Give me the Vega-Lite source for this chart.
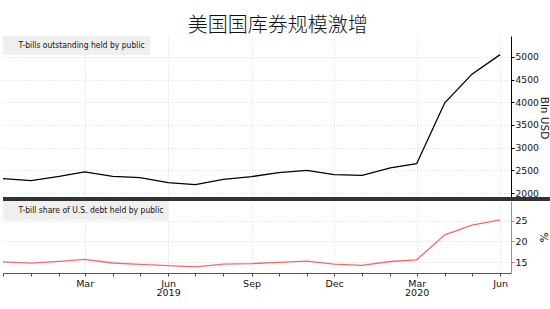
{
  "$schema": "https://vega.github.io/schema/vega-lite/v6.json",
  "padding": {"left": 0, "right": 0, "top": 16, "bottom": 0},
  "background": "white",
  "title": {"text": "美国国库券规模激增", "font": "Noto Sans CJK SC", "fontSize": 20, "fontWeight": 300, "color": "#111", "anchor": "middle", "offset": 0},
  "spacing": 0,
  "config": {
    "view": {"stroke": null},
    "axis": {"labelFont": "DejaVu Sans", "titleFont": "DejaVu Sans", "labelColor": "#111", "titleColor": "#111", "gridColor": "#d8d8d8", "gridDash": [1, 2], "gridWidth": 1},
    "legend": {"labelFont": "Liberation Sans Narrow, DejaVu Sans Condensed, Liberation Sans", "labelFontSize": 8.5, "labelColor": "#111", "labelLimit": 400}
  },
  "resolve": {"scale": {"color": "independent"}, "legend": {"color": "independent"}},
  "vconcat": [
    {
      "width": 508,
      "height": 163,
      "data": {"values": [
        {"date": "2018-12-01", "bln": 2320},
        {"date": "2019-01-01", "bln": 2275},
        {"date": "2019-02-01", "bln": 2368},
        {"date": "2019-03-01", "bln": 2466},
        {"date": "2019-04-01", "bln": 2370},
        {"date": "2019-05-01", "bln": 2340},
        {"date": "2019-06-01", "bln": 2230},
        {"date": "2019-07-01", "bln": 2187},
        {"date": "2019-08-01", "bln": 2300},
        {"date": "2019-09-01", "bln": 2363},
        {"date": "2019-10-01", "bln": 2450},
        {"date": "2019-11-01", "bln": 2500},
        {"date": "2019-12-01", "bln": 2407},
        {"date": "2020-01-01", "bln": 2391},
        {"date": "2020-02-01", "bln": 2554},
        {"date": "2020-03-01", "bln": 2648},
        {"date": "2020-04-01", "bln": 3989},
        {"date": "2020-05-01", "bln": 4620},
        {"date": "2020-06-01", "bln": 5050}
      ]},
      "layer": [
        {
          "mark": {"type": "line", "strokeWidth": 1.3},
          "encoding": {
            "x": {"field": "date", "type": "temporal",
              "scale": {"type": "utc", "domain": [{"year": 2018, "month": "dec", "date": 1, "utc": true}, {"year": 2020, "month": "jun", "date": 13, "utc": true}]},
              "axis": {"orient": "bottom", "title": null, "labels": false, "ticks": false, "domain": false, "grid": true,
                "values": [{"year": 2019, "month": "mar", "date": 1, "utc": true}, {"year": 2019, "month": "jun", "date": 1, "utc": true}, {"year": 2019, "month": "sep", "date": 1, "utc": true}, {"year": 2019, "month": "dec", "date": 1, "utc": true}, {"year": 2020, "month": "mar", "date": 1, "utc": true}, {"year": 2020, "month": "jun", "date": 1, "utc": true}]}},
            "y": {"field": "bln", "type": "quantitative",
              "scale": {"domain": [1870, 5460], "nice": false, "zero": false},
              "axis": {"orient": "right", "values": [2000, 2500, 3000, 3500, 4000, 4500, 5000], "format": "d", "labelOverlap": false, "domainColor": "#000", "tickColor": "#000", "tickSize": 3, "labelFontSize": 9.2, "labelPadding": 1, "title": "Bln USD", "titleFontSize": 10.5, "titleFontWeight": "normal", "titlePadding": 0, "grid": true}},
            "color": {"datum": "T-bills outstanding held by public", "scale": {"range": ["#000000"]},
              "legend": {"title": null, "orient": "top-left", "offset": 0, "padding": 5, "fillColor": "#efefef", "symbolType": "square", "symbolSize": 28, "symbolStrokeWidth": 0, "labelOffset": 2}}
          }
        },
        {
          "mark": {"type": "rule", "clip": false, "color": "#333", "strokeWidth": 3},
          "encoding": {
            "y": {"datum": 1870, "type": "quantitative",
              "axis": {"orient": "right", "values": [2000, 2500, 3000, 3500, 4000, 4500, 5000], "format": "d", "labelOverlap": false, "domainColor": "#000", "tickColor": "#000", "tickSize": 3, "labelFontSize": 9.2, "labelPadding": 1, "title": "Bln USD", "titleFontSize": 10.5, "titleFontWeight": "normal", "titlePadding": 0, "grid": true}},
            "x": {"datum": {"year": 2018, "month": "dec", "date": 1, "utc": true}, "type": "temporal",
              "axis": {"orient": "bottom", "title": null, "labels": false, "ticks": false, "domain": false, "grid": true,
                "values": [{"year": 2019, "month": "mar", "date": 1, "utc": true}, {"year": 2019, "month": "jun", "date": 1, "utc": true}, {"year": 2019, "month": "sep", "date": 1, "utc": true}, {"year": 2019, "month": "dec", "date": 1, "utc": true}, {"year": 2020, "month": "mar", "date": 1, "utc": true}, {"year": 2020, "month": "jun", "date": 1, "utc": true}]}},
            "x2": {"datum": {"year": 2020, "month": "jul", "date": 30, "utc": true}}
          }
        }
      ]
    },
    {
      "width": 508,
      "height": 72,
      "data": {"values": [
        {"date": "2018-12-01", "share": 15.1},
        {"date": "2019-01-01", "share": 14.8},
        {"date": "2019-02-01", "share": 15.25},
        {"date": "2019-03-01", "share": 15.7},
        {"date": "2019-04-01", "share": 14.85},
        {"date": "2019-05-01", "share": 14.5},
        {"date": "2019-06-01", "share": 14.2},
        {"date": "2019-07-01", "share": 13.9},
        {"date": "2019-08-01", "share": 14.6},
        {"date": "2019-09-01", "share": 14.7},
        {"date": "2019-10-01", "share": 15.0},
        {"date": "2019-11-01", "share": 15.3},
        {"date": "2019-12-01", "share": 14.6},
        {"date": "2020-01-01", "share": 14.3},
        {"date": "2020-02-01", "share": 15.2},
        {"date": "2020-03-01", "share": 15.6},
        {"date": "2020-04-01", "share": 21.6},
        {"date": "2020-05-01", "share": 23.9},
        {"date": "2020-06-01", "share": 25.2}
      ]},
      "resolve": {"axis": {"x": "independent"}},
      "layer": [
        {
          "mark": {"type": "line", "strokeWidth": 1.3},
          "encoding": {
            "x": {"field": "date", "type": "temporal",
              "scale": {"type": "utc", "domain": [{"year": 2018, "month": "dec", "date": 1, "utc": true}, {"year": 2020, "month": "jun", "date": 13, "utc": true}]},
              "axis": {"orient": "bottom", "title": null, "format": "%b", "labelOverlap": false, "labelFontSize": 9.5, "labelPadding": 2, "tickSize": 3, "tickColor": "#444", "domainColor": "#555", "grid": false,
                "labelExpr": "datum.value > utc(2019, 0, 15) && test(/Mar|Jun|Sep|Dec/, datum.label) ? datum.label : ''",
                "values": [
                  {"year": 2018, "month": "dec", "date": 1, "utc": true},
                  {"year": 2019, "month": "jan", "date": 1, "utc": true},
                  {"year": 2019, "month": "feb", "date": 1, "utc": true},
                  {"year": 2019, "month": "mar", "date": 1, "utc": true},
                  {"year": 2019, "month": "apr", "date": 1, "utc": true},
                  {"year": 2019, "month": "may", "date": 1, "utc": true},
                  {"year": 2019, "month": "jun", "date": 1, "utc": true},
                  {"year": 2019, "month": "jul", "date": 1, "utc": true},
                  {"year": 2019, "month": "aug", "date": 1, "utc": true},
                  {"year": 2019, "month": "sep", "date": 1, "utc": true},
                  {"year": 2019, "month": "oct", "date": 1, "utc": true},
                  {"year": 2019, "month": "nov", "date": 1, "utc": true},
                  {"year": 2019, "month": "dec", "date": 1, "utc": true},
                  {"year": 2020, "month": "jan", "date": 1, "utc": true},
                  {"year": 2020, "month": "feb", "date": 1, "utc": true},
                  {"year": 2020, "month": "mar", "date": 1, "utc": true},
                  {"year": 2020, "month": "apr", "date": 1, "utc": true},
                  {"year": 2020, "month": "may", "date": 1, "utc": true},
                  {"year": 2020, "month": "jun", "date": 1, "utc": true}
                ]}},
            "y": {"field": "share", "type": "quantitative",
              "scale": {"domain": [12.45, 29.7], "nice": false, "zero": false},
              "axis": {"orient": "right", "values": [15, 20, 25], "domainColor": "#f26b6b", "tickColor": "#f26b6b", "tickSize": 3, "labelFontSize": 9.5, "labelPadding": 1, "title": "%", "titleFontSize": 10.5, "titleFontWeight": "normal", "titlePadding": 10, "grid": true}},
            "color": {"datum": "T-bill share of U.S. debt held by public", "scale": {"range": ["#f26b6b"]},
              "legend": {"title": null, "orient": "top-left", "offset": 0, "padding": 5, "fillColor": "#efefef", "symbolType": "square", "symbolSize": 28, "symbolStrokeWidth": 0, "labelOffset": 2}}
          }
        },
        {
          "mark": {"type": "point", "size": 0, "strokeWidth": 0, "opacity": 0},
          "encoding": {
            "x": {"field": "date", "type": "temporal",
              "axis": {"orient": "bottom", "title": null, "format": "%Y", "labelOverlap": false, "labelFontSize": 9.5, "labelPadding": 14.5, "ticks": false, "domain": false, "grid": true,
                "labelExpr": "(utcmonth(datum.value) == 5 && utcyear(datum.value) == 2019) || (utcmonth(datum.value) == 2 && utcyear(datum.value) == 2020) ? datum.label : ''",
                "values": [{"year": 2019, "month": "mar", "date": 1, "utc": true}, {"year": 2019, "month": "jun", "date": 1, "utc": true}, {"year": 2019, "month": "sep", "date": 1, "utc": true}, {"year": 2019, "month": "dec", "date": 1, "utc": true}, {"year": 2020, "month": "mar", "date": 1, "utc": true}, {"year": 2020, "month": "jun", "date": 1, "utc": true}]}}
          }
        }
      ]
    }
  ]
}
